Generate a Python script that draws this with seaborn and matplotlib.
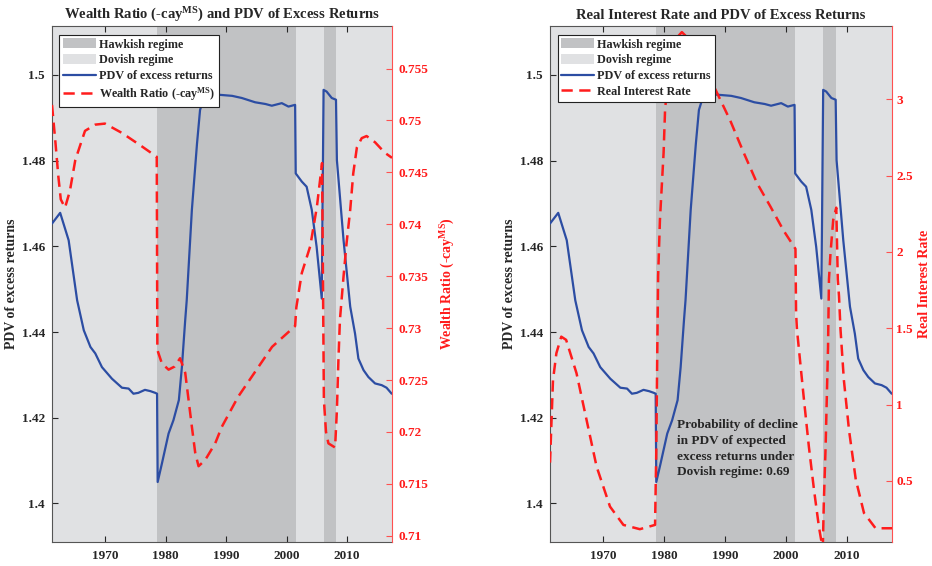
import numpy as np
import pandas as pd
import matplotlib
matplotlib.use("Agg")
import matplotlib.pyplot as plt
import seaborn as sns
from matplotlib.patches import Patch
from matplotlib.lines import Line2D

# ---------------- data ----------------
years_pdv = [1961.25, 1962.6, 1964.0, 1965.4, 1966.5, 1967.6, 1968.4, 1969.5, 1971.15, 1972.8,
             1973.9, 1974.7, 1975.5, 1976.6, 1977.5, 1978.3, 1978.6, 1978.7, 1979.4, 1980.5,
             1981.3, 1982.2, 1982.7, 1983.25, 1983.5, 1984.35, 1985.2, 1985.7, 1986.55, 1987.5,
             1989.3, 1991.0, 1992.6, 1994.8, 1996.5, 1997.55, 1999.2, 2000.3, 2001.4, 2001.5,
             2002.5, 2003.3, 2004.15, 2004.95, 2005.8, 2006.1, 2006.6, 2007.45, 2008.15, 2008.3,
             2009.4, 2010.5, 2011.3, 2011.85, 2012.7, 2013.5, 2014.6, 2015.7, 2016.5, 2017.35]
pdv = [1.4653, 1.4678, 1.4614, 1.4474, 1.4404, 1.4365, 1.4350, 1.4318, 1.4291, 1.4270,
       1.4268, 1.4256, 1.4258, 1.4265, 1.4262, 1.4258, 1.4256, 1.4050, 1.4093, 1.4163,
       1.4194, 1.4241, 1.4318, 1.4428, 1.4474, 1.4685, 1.4840, 1.4918, 1.4957, 1.4955,
       1.4953, 1.4951, 1.4946, 1.4936, 1.4932, 1.4928, 1.4934, 1.4926, 1.4930, 1.4770,
       1.4751, 1.4739, 1.4685, 1.4599, 1.4478, 1.4965, 1.4961, 1.4946, 1.4942, 1.4801,
       1.4614, 1.4459, 1.4396, 1.4338, 1.4311, 1.4295, 1.4280, 1.4276, 1.4270, 1.4256]

years_wealth = [1961.25, 1961.8, 1962.3, 1962.7, 1963.4, 1964.2, 1965.1, 1966.7, 1968.4, 1970.0,
                1972.8, 1976.1, 1978.55, 1978.65, 1979.4, 1980.5, 1981.5, 1982.4, 1983.25, 1983.8,
                1984.35, 1984.9, 1985.45, 1986.55, 1988.2, 1989.3, 1992.0, 1994.8, 1997.6, 2001.4,
                2001.6, 2002.5, 2003.9, 2005.0, 2005.85, 2006.15, 2006.5, 2006.9, 2008.0, 2008.3,
                2008.55, 2008.8, 2009.4, 2009.9, 2010.5, 2011.0, 2011.6, 2012.4, 2013.2, 2014.6,
                2016.2, 2017.4]
wealth = [0.7515, 0.7480, 0.7446, 0.7424, 0.7416, 0.7432, 0.7462, 0.7490, 0.7496, 0.7497,
          0.7488, 0.7475, 0.7465, 0.7279, 0.7266, 0.7260, 0.7263, 0.7271, 0.7257, 0.7231,
          0.7205, 0.7180, 0.7167, 0.7173, 0.7189, 0.7205, 0.7234, 0.7258, 0.7282, 0.7302,
          0.7320, 0.7353, 0.7379, 0.7417, 0.7459, 0.7231, 0.7200, 0.7189, 0.7185, 0.7221,
          0.7269, 0.7308, 0.7350, 0.7382, 0.7414, 0.7449, 0.7474, 0.7483, 0.7485, 0.7479,
          0.7469, 0.7464]

years_rate = [1961.25, 1961.74, 1962.3, 1963.1, 1963.9, 1965.6, 1967.25, 1968.9, 1971.1, 1973.3,
              1976.0, 1978.5, 1978.7, 1978.85, 1979.0, 1979.3, 1979.9, 1980.15, 1981.0, 1982.0,
              1982.9, 1983.9, 1985.5, 1988.1, 1990.85, 1993.05, 1995.25, 1997.4, 1999.6, 2001.55,
              2001.65, 2001.8, 2002.9, 2003.75, 2004.6, 2005.4, 2006.0, 2006.05, 2006.2, 2006.5,
              2006.9, 2007.05, 2007.3, 2007.75, 2008.25, 2008.5, 2008.7, 2008.95, 2009.5, 2010.35,
              2011.45, 2012.8, 2014.7, 2016.9, 2017.4]
real_rate = [0.62, 1.16, 1.337, 1.445, 1.424, 1.206, 0.90, 0.594, 0.332, 0.212,
             0.184, 0.212, 0.70, 1.30, 1.84, 2.21, 2.65, 2.94, 3.25, 3.40,
             3.44, 3.40, 3.28, 3.09, 2.86, 2.65, 2.45, 2.30, 2.14, 2.02,
             1.60, 1.49, 1.05, 0.725, 0.44, 0.20, 0.06, 0.08, 0.35, 0.725,
             1.38, 1.82, 1.99, 2.21, 2.29, 1.82, 1.71, 1.49, 1.16, 0.83,
             0.51, 0.29, 0.19, 0.19, 0.19]

hawkish_periods = [(1978.6, 2001.5), (2006.1, 2008.2)]
dovish_periods = [(1961.25, 1978.6), (2001.5, 2006.1), (2008.2, 2017.4)]

pdv_ticks = [1.4, 1.42, 1.44, 1.46, 1.48, 1.5]
wealth_ticks = [0.71, 0.715, 0.72, 0.725, 0.73, 0.735, 0.74, 0.745, 0.75, 0.755]
rate_ticks = [0.5, 1, 1.5, 2, 2.5, 3]
year_ticks = [1970, 1980, 1990, 2000, 2010]

# ---------------- style ----------------
sns.set_theme(style="white")
plt.rcParams['font.family'] = ['Liberation Serif', 'DejaVu Serif']
plt.rcParams['font.weight'] = 'bold'
plt.rcParams['axes.labelweight'] = 'bold'
plt.rcParams['axes.titleweight'] = 'bold'
plt.rcParams['mathtext.fontset'] = 'custom'
plt.rcParams['mathtext.rm'] = 'Liberation Serif:bold'
plt.rcParams['mathtext.it'] = 'Liberation Serif:bold'
plt.rcParams['mathtext.bf'] = 'Liberation Serif:bold'

HAWK = '#c1c2c4'
DOV = '#e0e1e3'
BLUE = '#2c4da3'
RED = '#ff1c1c'
AXC = '#262626'
RSP = '#ff5050'
DASH = (0, (4.5, 2.6))

fig = plt.figure(figsize=(9.32, 5.66), dpi=100)
ax_l = fig.add_axes([52 / 932, 24 / 566, 340 / 932, 516 / 566])
ax_r = fig.add_axes([550 / 932, 24 / 566, 342 / 932, 516 / 566])


def panel(ax, yr2, val2, label2, ylim2, ticks2, ticklabels2, title, leg_label, rpad, rlabelpad):
    for a, b in dovish_periods:
        ax.axvspan(a, b, color=DOV, lw=0, zorder=0)
    for a, b in hawkish_periods:
        ax.axvspan(a, b, color=HAWK, lw=0, zorder=0)
    df = pd.DataFrame({'year': years_pdv, 'pdv': pdv})
    sns.lineplot(data=df, x='year', y='pdv', ax=ax, color=BLUE, lw=1.6,
                 estimator=None, sort=False, zorder=3)
    ax.set_xlim(1961.25, 2017.4)
    ax.set_ylim(1.391, 1.5114)
    ax.set_yticks(pdv_ticks)
    ax.set_yticklabels([f'{t:g}' for t in pdv_ticks])
    ax.set_xticks(year_ticks)
    ax.set_xticklabels([str(t) for t in year_ticks])
    ax.tick_params(axis='both', direction='in', length=4, width=0.8, colors=AXC,
                   labelsize=9.5, labelcolor=AXC)
    ax.tick_params(axis='x', top=True, bottom=True, pad=6)
    ax.tick_params(axis='y', left=True, right=False, pad=5)
    ax.set_xlabel('')
    ax.set_ylabel('PDV of excess returns', fontsize=10, color=AXC, labelpad=3)
    ax.set_title(title, fontsize=10.5, color=AXC, pad=5)
    for s in ['left', 'bottom', 'top']:
        ax.spines[s].set_color('#555555')
        ax.spines[s].set_linewidth(0.8)

    ax2 = ax.twinx()
    df2 = pd.DataFrame({'year': yr2, 'v': val2})
    sns.lineplot(data=df2, x='year', y='v', ax=ax2, color=RED, lw=1.8,
                 linestyle=DASH, estimator=None, sort=False, zorder=4)
    ax2.set_ylim(*ylim2)
    ax2.set_yticks(ticks2)
    ax2.set_yticklabels(ticklabels2)
    ax2.tick_params(axis='y', direction='in', length=4, width=0.8, colors=RSP,
                    labelcolor=RED, labelsize=9.5, pad=rpad)
    ax2.set_xlabel('')
    ax2.set_ylabel(label2, fontsize=10, color=RED, labelpad=rlabelpad)
    for s in ['left', 'bottom', 'top']:
        ax2.spines[s].set_visible(False)
    ax2.spines['right'].set_color(RSP)
    ax2.spines['right'].set_linewidth(0.8)
    ax.spines['right'].set_visible(False)

    handles = [Patch(facecolor=HAWK, edgecolor='none'),
               Patch(facecolor=DOV, edgecolor='none'),
               Line2D([], [], color=BLUE, lw=1.6),
               Line2D([], [], color=RED, lw=1.8, linestyle=DASH)]
    labels = ['Hawkish regime', 'Dovish regime', 'PDV of excess returns', leg_label]
    leg = ax2.legend(handles, labels, loc='upper left', bbox_to_anchor=(0.022, 0.983),
                     fontsize=8.7, frameon=True, fancybox=False, framealpha=1,
                     edgecolor='#222222', borderpad=0.3, labelspacing=0.3,
                     handlelength=2.7, handleheight=0.9, handletextpad=0.3,
                     borderaxespad=0)
    leg.get_frame().set_linewidth(0.8)
    for t in leg.get_texts():
        t.set_color(AXC)
    return ax2


panel(ax_l, years_wealth, wealth, r'Wealth Ratio (-cay$^{\rm MS}$)', (0.7094, 0.7591),
      wealth_ticks, [f'{t:g}' for t in wealth_ticks],
      r'Wealth Ratio (-cay$^{\rm MS}$) and PDV of Excess Returns',
      r'Wealth Ratio (-cay$^{\rm MS}$)', 5, 7)

ax_r2 = panel(ax_r, years_rate, real_rate, 'Real Interest Rate', (0.10, 3.48),
              rate_ticks, [f'{t:g}' for t in rate_ticks],
              'Real Interest Rate and PDV of Excess Returns', 'Real Interest Rate', 3, 4)

ax_r.text(1982.1, 1.4196,
          'Probability of decline\nin PDV of expected\nexcess returns under\nDovish regime: 0.69',
          fontsize=9.5, color=AXC, ha='left', va='top', linespacing=1.4, zorder=6)

fig.savefig('out.png', dpi=100)
